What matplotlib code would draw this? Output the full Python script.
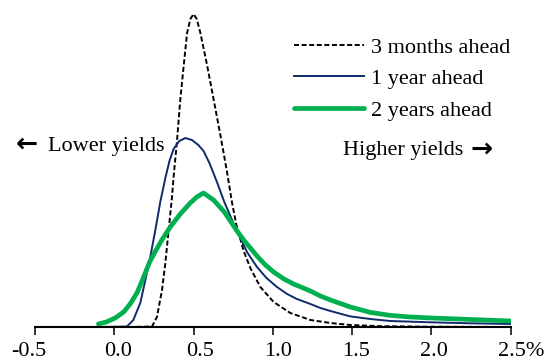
import matplotlib
matplotlib.use("Agg")
import matplotlib.pyplot as plt
from matplotlib.transforms import ScaledTranslation

plt.rcParams['font.family'] = ['Liberation Serif', 'DejaVu Serif']

# Probability densities of the future yield (% level)
x_3m = [-0.10, 0.10, 0.238, 0.269, 0.301, 0.322, 0.343, 0.364, 0.374, 0.396, 0.416,
        0.437, 0.459, 0.48, 0.50, 0.52, 0.543, 0.585, 0.626, 0.669,
        0.711, 0.743, 0.770, 0.816, 0.858, 0.921, 1.005, 1.110, 1.237, 1.363,
        1.489, 1.678, 1.994, 2.50]
y_3m = [0.0, 0.0, 0.005, 0.10, 0.37, 0.64, 0.97, 1.30, 1.50, 1.87, 2.27,
        2.60, 2.94, 3.08, 3.13, 3.08, 2.94, 2.62, 2.28, 1.92,
        1.55, 1.24, 1.02, 0.76, 0.59, 0.40, 0.25, 0.14, 0.07, 0.04,
        0.02, 0.008, 0.003, 0.0]

x_1y = [-0.10, 0.08, 0.12, 0.164, 0.196, 0.227, 0.259, 0.290, 0.322, 0.348, 0.374,
        0.41, 0.448, 0.49, 0.53, 0.563, 0.60, 0.645, 0.694, 0.770, 0.837, 0.900,
        0.96, 1.026, 1.09, 1.152, 1.237, 1.300, 1.363, 1.489, 1.615, 1.741, 1.994,
        2.25, 2.50]
y_1y = [0.0, 0.005, 0.07, 0.24, 0.47, 0.70, 0.97, 1.25, 1.49, 1.66, 1.78,
        1.86, 1.89, 1.87, 1.82, 1.76, 1.64, 1.46, 1.25, 0.97, 0.75, 0.60,
        0.49, 0.40, 0.33, 0.28, 0.23, 0.19, 0.16, 0.106, 0.08, 0.06, 0.047,
        0.037, 0.03]

x_2y = [-0.10, -0.05, 0.006, 0.059, 0.10, 0.143, 0.18, 0.223, 0.26, 0.30, 0.353,
        0.416, 0.479, 0.52, 0.563, 0.626, 0.694, 0.770, 0.816, 0.858, 0.900,
        0.95, 1.005, 1.07, 1.131, 1.237, 1.300, 1.363, 1.489, 1.615, 1.741, 1.867,
        2.0, 2.25, 2.50]
y_2y = [0.03, 0.05, 0.09, 0.15, 0.23, 0.34, 0.48, 0.65, 0.76, 0.87, 1.00,
        1.13, 1.24, 1.30, 1.34, 1.27, 1.15, 0.97, 0.87, 0.79, 0.71,
        0.625, 0.55, 0.48, 0.43, 0.36, 0.31, 0.27, 0.20, 0.146, 0.116, 0.10,
        0.09, 0.075, 0.06]

tick_values = [-0.5, 0.0, 0.5, 1.0, 1.5, 2.0, 2.5]
tick_labels = ['-0.5', '0.0', '0.5', '1.0', '1.5', '2.0', '2.5%']
label_shift_px = [-6, 4, 6, 5, 4, 3, 10]

W, H = 552, 358
fig = plt.figure(figsize=(W / 100, H / 100), dpi=100)
ax = fig.add_axes([35 / W, 1 - 327 / H, (510.7 - 35) / W, 327 / H])

ax.plot(x_3m, y_3m, color='black', lw=1.4, dashes=(2.6, 1.3),
        label='3 months ahead')
ax.plot(x_1y, y_1y, color='#0E2A6B', lw=1.4, label='1 year ahead')
ax.plot(x_2y, y_2y, color='#00B050', lw=3.4, label='2 years ahead',
        solid_capstyle='round', solid_joinstyle='round')

ax.set_xlim(-0.5, 2.5)
ax.set_ylim(0, 3.27)
ax.set_yticks([])
for side in ('left', 'right', 'top'):
    ax.spines[side].set_visible(False)
ax.spines['bottom'].set_linewidth(1.5)
ax.set_xticks(tick_values)
ax.set_xticklabels(tick_labels, fontsize=16)
ax.tick_params(axis='x', direction='out', length=5.8, width=1.1, pad=4.8)
for lab, dx in zip(ax.get_xticklabels(), label_shift_px):
    lab.set_transform(lab.get_transform() +
                      ScaledTranslation(dx / 100, 0, fig.dpi_scale_trans))

leg = ax.legend(loc='upper left', bbox_to_anchor=(294 / W, 1 - 37 / H),
                bbox_transform=fig.transFigure, frameon=False, fontsize=16,
                borderpad=0, borderaxespad=0, handlelength=3.15,
                handletextpad=0.3, labelspacing=0.5)

def px(x, y):
    return x / W, 1 - y / H

arrow_style = dict(fontsize=19, fontweight='bold', family='DejaVu Sans',
                   va='center', ha='left')
fig.text(*px(16, 145), '\u2190', **arrow_style)
fig.text(*px(48, 146), 'Lower yields', fontsize=16, va='center', ha='left')
fig.text(*px(343, 151), 'Higher yields', fontsize=16, va='center', ha='left')
fig.text(*px(471, 150), '\u2192', **arrow_style)

fig.savefig('out.png', dpi=100)
